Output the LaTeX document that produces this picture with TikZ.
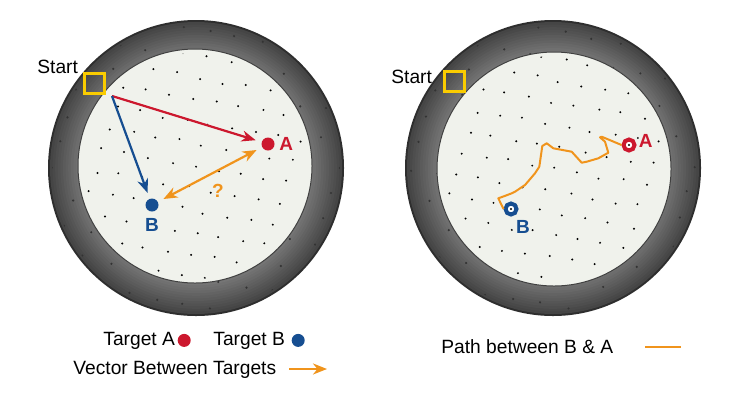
\documentclass[tikz,border=0pt]{standalone}
\usepackage{fontspec}
\setmainfont{Liberation Sans}
\usetikzlibrary{arrows.meta,positioning}
\definecolor{tred}{RGB}{204,24,46}
\definecolor{tblue}{RGB}{22,78,145}
\definecolor{torange}{RGB}{240,148,28}
\definecolor{tyellow}{RGB}{250,204,0}
\definecolor{floor}{RGB}{240,242,236}
\tikzset{
    startbox/.style={draw=tyellow, line width=1.5pt, minimum size=10pt, inner sep=0},
    target/.style={circle, fill=#1, minimum size=6.5pt, inner sep=0},
    ring/.style={circle, draw=#1, line width=2pt, fill=white, minimum size=5.5pt, inner sep=0},
    tlabel/.style={font=\fontsize{9.5}{11}\selectfont\bfseries, text=#1, inner sep=1pt},
    vec/.style={>={Stealth[length=7pt,width=5.5pt,inset=2.2pt]}, line width=1.1pt, draw=#1, shorten >=3pt},
    trail/.style={draw=torange, line width=1pt, line join=round},
    legtext/.style={font=\fontsize{9.6}{11}\selectfont, inner sep=0},
    }
% arena: outer centre, inner centre
\newcommand{\drawarena}[2]{%
    \fill[black!82] (#1) circle[radius=74pt];
    \foreach \k in {0,...,11}{
        \pgfmathsetmacro{\rr}{73-\k*1.3}
        \pgfmathsetmacro{\sh}{27+\k*1.7}
        \fill[white!\sh!black] (#1) circle[radius=\rr pt];
    }
    \begin{scope}
        \clip (#1) circle[radius=72pt];
        \foreach \i in {-6,...,6}
        \foreach \j in {-6,...,6}{
            \pgfmathsetmacro{\dx}{\i*27-\j*8+rnd*4-2}
            \pgfmathsetmacro{\dy}{\i*5+\j*26+rnd*4-2}
            \fill[black!80, shift={(#1)}] (\dx,\dy) circle[radius=0.6pt];
        }
    \end{scope}
    \fill[floor] (#2) circle[radius=58.5pt];
    \draw[black!75, line width=0.5pt] (#2) circle[radius=58.5pt];
    \begin{scope}
        \clip (#2) circle[radius=56.5pt];
        \foreach \i in {-7,...,7}
        \foreach \j in {-7,...,7}{
            \pgfmathsetmacro{\dx}{\i*23-\j*7+rnd*4-2}
            \pgfmathsetmacro{\dy}{\i*4+\j*21+rnd*4-2}
            \fill[shift={(#2)}] (\dx,\dy) circle[radius=0.55pt];
        }
    \end{scope}
}
\begin{document}
\begin{tikzpicture}[x=0.5pt, y=-0.5pt]
    \useasboundingbox[fill=white] (0,0) rectangle (731,408);
    \pgfmathsetseed{11}

    % left arena
    \coordinate (c1) at (196,168);
    \coordinate (d1) at (195,166);
    \drawarena{c1}{d1}
    \node[startbox] (s1) at (94,83) {};
    \node[legtext, anchor=base west] (st1) at (37,73) {Start};
    \coordinate (o1) at (112,96);
    \node[target=tred] (tA) at (268,144) {};
    \node[tlabel=tred, right=1pt of tA] (lA) {A};
    \node[target=tblue] (tB) at (152,205) {};
    \node[tlabel=tblue, below=2pt of tB] (lB) {B};
    \draw[vec=tred, ->] (o1) -- (tA);
    \draw[vec=tblue, ->] (o1) -- (tB);
    \draw[vec=torange, <->, shorten <=3pt] (tB) -- (tA);
    \node[tlabel=torange] (q) at (218,191) {?};

    % right arena
    \coordinate (c2) at (553,168);
    \coordinate (d2) at (554,169);
    \drawarena{c2}{d2}
    \node[startbox] (s2) at (454,81) {};
    \node[legtext, anchor=base west] (st2) at (391,83) {Start};
    \node[ring=tred] (rA) at (629,145) {};
    \fill (rA) circle[radius=0.6pt];
    \node[tlabel=tred, right=0pt of rA, yshift=2pt] (lA2) {A};
    \node[ring=tblue] (rB) at (511,209) {};
    \fill (rB) circle[radius=0.6pt];
    \node[tlabel=tblue] (lB2) at (523,227) {B};
    \draw[trail] (rB.west) -- (498.3,198.3) -- (506,195.5) -- (511.7,193.3)
        -- (515,191.7) -- (525,185) -- (535,173.3) -- (539.3,166.7) -- (542.3,146)
        -- (546.7,143.3) -- (553.3,148.3) -- (571.7,151.7) -- (581.7,162.7)
        -- (586.7,161.7) -- (598.3,158.3) -- (608.3,152.7) -- (605,141.7)
        -- (600,137.3) -- (601.7,136.7) -- (rA.west);

    % legend
    \node[legtext, anchor=base west] (lgA) at (103,345) {Target A};
    \node[target=tred, right=1pt of lgA] (dA) {};
    \node[legtext, anchor=base west] (lgB) at (213,345) {Target B};
    \node[target=tblue, right=3pt of lgB] (dB) {};
    \node[legtext, anchor=base west] (lgV) at (73,374) {Vector Between Targets};
    \coordinate (va1) at (289,369);
    \coordinate (va2) at (327,369);
    \draw[vec=torange, ->, shorten >=0pt] (va1) -- (va2);
    \node[legtext, anchor=base west] (lgP) at (441,353) {Path between B \& A};
    \coordinate (pa1) at (645,347);
    \coordinate (pa2) at (681,347);
    \draw[trail, line width=1.3pt] (pa1) -- (pa2);
\end{tikzpicture}
\end{document}
